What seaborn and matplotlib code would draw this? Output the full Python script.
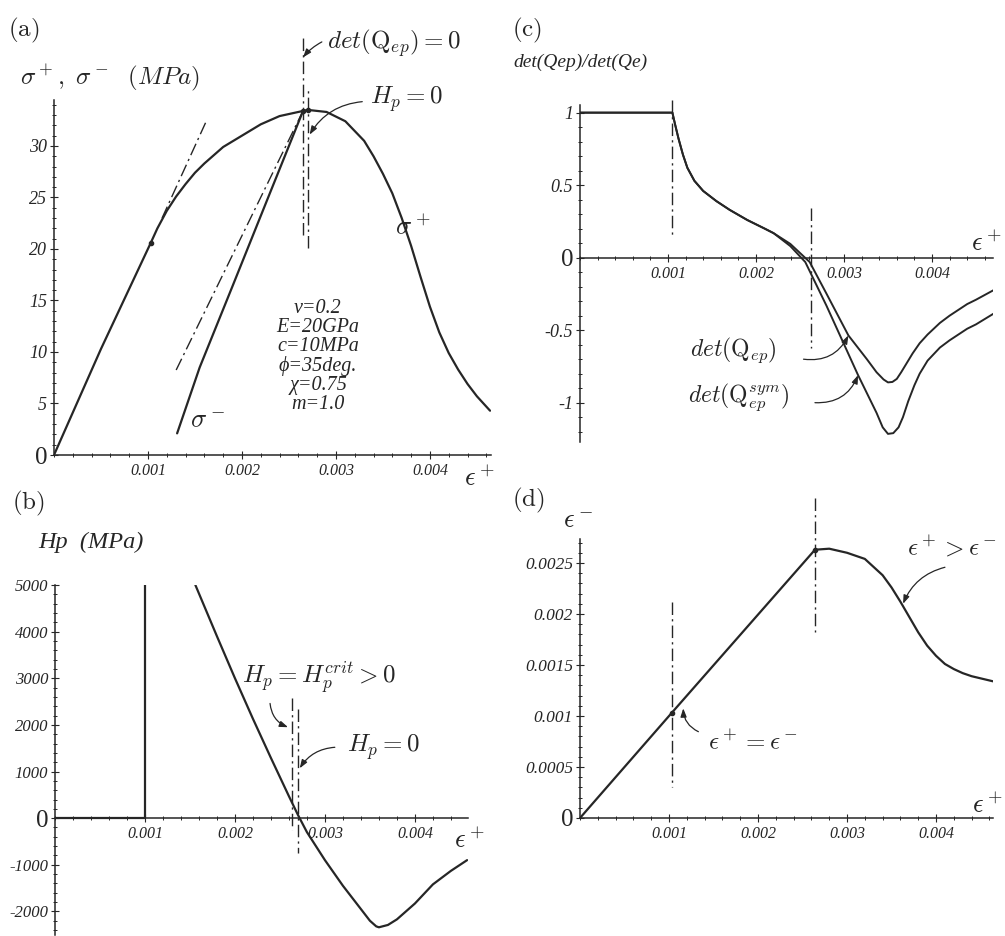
import matplotlib
matplotlib.use("Agg")
import numpy as np
import pandas as pd
import matplotlib.pyplot as plt
import seaborn as sns
from matplotlib.ticker import MultipleLocator

INK = "#262626"
W, H = 1005, 936

# ---- (a) stress vs strain
eps_a = [0, 0.0005, 0.00103, 0.0011, 0.0012, 0.0013, 0.0014, 0.0015, 0.0016, 0.0018,
         0.002, 0.0022, 0.0024, 0.00265, 0.0027, 0.0029, 0.0031, 0.0033, 0.0034, 0.0035,
         0.0036, 0.0037, 0.0038, 0.0039, 0.0040, 0.0041, 0.0042, 0.0043, 0.0044, 0.0045,
         0.00464]
sigma_plus = [0, 10.3, 20.6, 22.0, 23.7, 25.1, 26.3, 27.4, 28.3, 29.9,
              31.0, 32.1, 32.9, 33.4, 33.5, 33.3, 32.4, 30.5, 29.0, 27.3,
              25.4, 23.0, 20.3, 17.3, 14.4, 11.9, 9.9, 8.3, 6.9, 5.7,
              4.3]
eps_minus_a = [0.00131, 0.00155, 0.0019, 0.00227, 0.00265]
sigma_minus = [2.1, 8.5, 16.4, 24.8, 33.4]
unload_eps = [0.0013, 0.00265]
unload_sig = [8.25, 33.4]
tangent_eps = [0.00115, 0.00162]
tangent_sig = [23.0, 32.4]

# ---- (b) plastic modulus
hp_elastic_eps = [0, 0.001, 0.001]
hp_elastic = [0, 0, 5000]
hp_eps = [0.00156, 0.0018, 0.002, 0.0022, 0.0024, 0.0026, 0.0027, 0.0028, 0.003,
          0.0032, 0.0034, 0.0035, 0.00357, 0.0036, 0.0037, 0.0038, 0.004, 0.0042,
          0.0044, 0.00458]
hp_vals = [5000, 3900, 3000, 2130, 1290, 470, 70, -300, -900,
           -1450, -1950, -2200, -2320, -2340, -2290, -2170, -1830, -1420,
           -1130, -900]

# ---- (c) determinant ratio
det_eps_common = [0, 0.00105, 0.00108, 0.00112, 0.00117, 0.00122, 0.0013, 0.0014,
                  0.00155, 0.0017, 0.0019, 0.0021, 0.0022]
det_common = [1, 1, 0.92, 0.82, 0.71, 0.62, 0.53, 0.46, 0.39, 0.33, 0.26, 0.20, 0.169]
det_ep_eps = [0.00239, 0.00261, 0.0028, 0.00305, 0.00326, 0.00337, 0.00345, 0.0035,
              0.00355, 0.0036, 0.00365, 0.00371, 0.00378, 0.00386, 0.00395, 0.00409,
              0.0042, 0.0044, 0.0045, 0.0047]
det_ep = [0.095, -0.03, -0.247, -0.536, -0.70, -0.79, -0.84, -0.86,
          -0.857, -0.836, -0.79, -0.73, -0.66, -0.59, -0.53, -0.45,
          -0.40, -0.32, -0.29, -0.224]
det_sym_eps = [0.00239, 0.00256, 0.0028, 0.00316, 0.00337, 0.00344, 0.0035, 0.00356,
               0.00362, 0.00367, 0.00373, 0.0038, 0.00386, 0.00395, 0.00409, 0.0042,
               0.0044, 0.0045, 0.0047]
det_sym = [0.08, -0.03, -0.33, -0.81, -1.07, -1.17, -1.215, -1.21,
           -1.17, -1.10, -0.99, -0.88, -0.80, -0.71, -0.62, -0.57,
           -0.49, -0.46, -0.386]

# ---- (d) eps- vs eps+
eps_d = [0, 0.00103, 0.00264, 0.0028, 0.003, 0.0032, 0.0034, 0.0035, 0.0036, 0.0037,
         0.0038, 0.0039, 0.004, 0.0041, 0.0042, 0.0043, 0.0044, 0.00464]
eps_minus_d = [0, 0.00103, 0.00263, 0.00264, 0.0026, 0.00254, 0.00238, 0.00226, 0.00212,
               0.00197, 0.00182, 0.00169, 0.00159, 0.00151, 0.00146, 0.00142, 0.00139,
               0.00134]

# reference (dash-dot) lines: x, y_from, y_to
vlines_a = [(0.00265, 21.4, 40.6), (0.0027, 20.1, 35.7)]
vlines_b = [(0.00263, 2570, -260), (0.0027, 2350, -750)]
vlines_c = [(0.00105, 1.09, 0.134), (0.00263, 0.34, -0.62)]
vlines_d = [(0.00103, 0.00212, 0.0003), (0.00264, 0.00314, 0.00182)]

x_ticks = [0.001, 0.002, 0.003, 0.004]
x_tick_labels = ["0.001", "0.002", "0.003", "0.004"]
a_yticks = [0, 5, 10, 15, 20, 25, 30]
a_ylabels = ["0", "5", "10", "15", "20", "25", "30"]
b_yticks = [-2000, -1000, 0, 1000, 2000, 3000, 4000, 5000]
b_ylabels = ["-2000", "-1000", "0", "1000", "2000", "3000", "4000", "5000"]
c_yticks = [-1, -0.5, 0, 0.5, 1]
c_ylabels = ["-1", "-0.5", "0", "0.5", "1"]
d_yticks = [0, 0.0005, 0.001, 0.0015, 0.002, 0.0025]
d_ylabels = ["0", "0.0005", "0.001", "0.0015", "0.002", "0.0025"]

sns.set_style("ticks")
plt.rcParams["font.family"] = ["Liberation Serif", "DejaVu Serif"]
plt.rcParams["mathtext.fontset"] = "cm"

DASHDOT = (0, (9, 3, 1.6, 3))
SERIF = ["Liberation Serif", "DejaVu Serif"]

fig = plt.figure(figsize=(W / 100, H / 100), dpi=100)


def add_panel(l, t, r, b):
    return fig.add_axes([l / W, 1 - b / H, (r - l) / W, (b - t) / H])


def ftext(px, py, s, **kw):
    fig.text(px / W, 1 - py / H, s, **kw)


def style_axis(ax, xlim, ylim, yticks, ylabels, xminor, yminor, ysize, zero_axis=False):
    ax.set_xlim(*xlim)
    ax.set_ylim(*ylim)
    for side in ["top", "right"]:
        ax.spines[side].set_visible(False)
    for side in ["left", "bottom"]:
        ax.spines[side].set_color(INK)
        ax.spines[side].set_linewidth(1.1)
    if zero_axis:
        ax.spines["bottom"].set_position(("data", 0))
    ax.set_xticks(x_ticks)
    ax.set_xticklabels(x_tick_labels, fontstyle="italic", family=SERIF, fontsize=11.5, color=INK)
    ax.set_yticks(yticks)
    labs = ax.set_yticklabels(ylabels, fontstyle="italic", family=SERIF, fontsize=ysize, color=INK)
    for lab in labs:
        if lab.get_text() == "0":
            lab.set_fontstyle("normal")
            lab.set_fontsize(18)
    ax.xaxis.set_minor_locator(MultipleLocator(xminor))
    ax.yaxis.set_minor_locator(MultipleLocator(yminor))
    ax.tick_params(which="both", bottom=True, left=True, top=False, right=False)
    ax.tick_params(which="major", direction="inout", length=6, width=0.8, color=INK)
    ax.tick_params(which="minor", direction="inout", length=3.5, width=0.7, color=INK)
    ax.tick_params(axis="x", which="major", pad=3)
    ax.tick_params(axis="y", which="major", pad=2)
    ax.patch.set_alpha(0)


def draw(ax, x, y, lw=1.6):
    sns.lineplot(x=np.array(x), y=np.array(y), ax=ax, color=INK, linewidth=lw,
                 sort=False, estimator=None, legend=False, solid_joinstyle="round")


def ref_lines(ax, lines):
    for x, y0, y1 in lines:
        ax.plot([x, x], [y0, y1], color=INK, lw=1.0, ls=DASHDOT, clip_on=False)


def arrow(ax, tail, tip, rad):
    ax.annotate("", xy=tip, xytext=tail, annotation_clip=False,
                arrowprops=dict(arrowstyle="-|>,head_length=0.5,head_width=0.18",
                                color=INK, lw=0.9, shrinkA=0, shrinkB=0,
                                connectionstyle=f"arc3,rad={rad}"))


# ---------------- panel (a)
ax_a = add_panel(54, 99.6, 491, 455)
style_axis(ax_a, (0, 0.00465), (0, 34.5), a_yticks, a_ylabels, 0.0002, 1, 13)
draw(ax_a, eps_a, sigma_plus)
draw(ax_a, eps_minus_a, sigma_minus)
ax_a.plot(unload_eps, unload_sig, color=INK, lw=1.0, ls=DASHDOT)
ax_a.plot(tangent_eps, tangent_sig, color=INK, lw=1.0, ls=DASHDOT)
ref_lines(ax_a, vlines_a)
ax_a.plot([eps_a[2], eps_a[13], eps_a[14]], [sigma_plus[2], sigma_plus[13], sigma_plus[14]],
          "o", color=INK, ms=3, clip_on=False)
ax_a.text(0.00291, 40.0, r"$det(\mathrm{Q}_{ep})=0$", fontsize=18, ha="left", va="center",
          color=INK, clip_on=False)
arrow(ax_a, (0.00285, 40.1), (0.00265, 38.6), 0.1)
ax_a.text(0.00336, 34.5, r"$H_p=0$", fontsize=18, ha="left", va="center", color=INK)
arrow(ax_a, (0.00328, 34.3), (0.00272, 31.1), 0.25)
ax_a.text(0.00382, 22.1, r"$\sigma^+$", fontsize=19, ha="center", va="center", color=INK)
ax_a.text(0.00163, 3.2, r"$\sigma^-$", fontsize=19, ha="center", va="center", color=INK)
ax_a.text(0.00281, 9.6, "ν=0.2\nE=20GPa\nc=10MPa\nϕ=35deg.\nχ=0.75\nm=1.0",
          ha="center", va="center", multialignment="center", family=SERIF,
          fontstyle="italic", fontsize=14.5, linespacing=1.0, color=INK)

# ---------------- panel (b)
ax_b = add_panel(55, 585, 468, 934.75)
style_axis(ax_b, (0, 0.00459), (-2500, 5000), b_yticks, b_ylabels, 0.0002, 200, 12,
           zero_axis=True)
draw(ax_b, hp_elastic_eps, hp_elastic)
draw(ax_b, hp_eps, hp_vals)
ref_lines(ax_b, vlines_b)
ax_b.text(0.00208, 3020, r"$H_p=H_p^{crit}>0$", fontsize=18, ha="left", va="center", color=INK)
arrow(ax_b, (0.00239, 2460), (0.00259, 1950), 0.3)
ax_b.text(0.00324, 1520, r"$H_p=0$", fontsize=18, ha="left", va="center", color=INK)
arrow(ax_b, (0.00311, 1520), (0.00272, 1070), 0.25)

# ---------------- panel (c)
ax_c = add_panel(580, 105.4, 992.7, 441.85)
style_axis(ax_c, (0, 0.00469), (-1.27, 1.05), c_yticks, c_ylabels, 0.0002, 0.1, 13,
           zero_axis=True)
draw(ax_c, det_eps_common + det_ep_eps, det_common + det_ep, lw=1.4)
draw(ax_c, det_eps_common + det_sym_eps, det_common + det_sym, lw=1.4)
ref_lines(ax_c, vlines_c)
ax_c.text(0.00125, -0.637, r"$det(\mathrm{Q}_{ep})$", fontsize=17, ha="left", va="center",
          color=INK)
arrow(ax_c, (0.00254, -0.70), (0.00305, -0.536), 0.35)
ax_c.text(0.00123, -0.96, r"$det(\mathrm{Q}_{ep}^{sym})$", fontsize=17, ha="left",
          va="center", color=INK)
arrow(ax_c, (0.00267, -1.0), (0.00316, -0.81), 0.35)

# ---------------- panel (d)
ax_d = add_panel(580, 538.5, 993, 818)
style_axis(ax_d, (0, 0.00464), (0, 0.00274), d_yticks, d_ylabels, 0.0002, 0.0001, 12.5)
draw(ax_d, eps_d, eps_minus_d)
ref_lines(ax_d, vlines_d)
ax_d.plot([eps_d[1], eps_d[2]], [eps_minus_d[1], eps_minus_d[2]], "o", color=INK, ms=3)
ax_d.text(0.00144, 0.000735, r"$\epsilon^+=\epsilon^-$", fontsize=18, ha="left",
          va="center", color=INK)
arrow(ax_d, (0.00133, 0.000846), (0.00116, 0.001075), -0.3)
ax_d.text(0.00367, 0.00265, r"$\epsilon^+>\epsilon^-$", fontsize=18, ha="left",
          va="center", color=INK, clip_on=False)
arrow(ax_d, (0.0041, 0.002458), (0.00363, 0.0021), 0.25)

# ---------------- panel letters and axis names
for px, py, s in [(8, 30, "(a)"), (12, 503, "(b)"), (512, 30, "(c)"), (512, 500, "(d)")]:
    ftext(px, py, r"$\mathrm{" + s + "}$", fontsize=18, ha="left", va="center", color=INK)

ftext(20, 78, r"$\sigma^+,\ \sigma^-\ \ (MPa)$", fontsize=18, ha="left", va="center",
      color=INK)
ftext(38, 542, "Hp  (MPa)", family=SERIF, fontstyle="italic", fontsize=17.5, ha="left",
      va="center", color=INK)
ftext(513, 62, "det(Qep)/det(Qe)", family=SERIF, fontstyle="italic", fontsize=14,
      ha="left", va="center", color=INK)
for px, py in [(480, 478), (470, 840), (987, 243), (988, 805)]:
    ftext(px, py, r"$\epsilon^+$", fontsize=19, ha="center", va="center", color=INK)
ftext(578, 522, r"$\epsilon^-$", fontsize=19, ha="center", va="center", color=INK)

fig.savefig("out.png", dpi=100, facecolor="white")
